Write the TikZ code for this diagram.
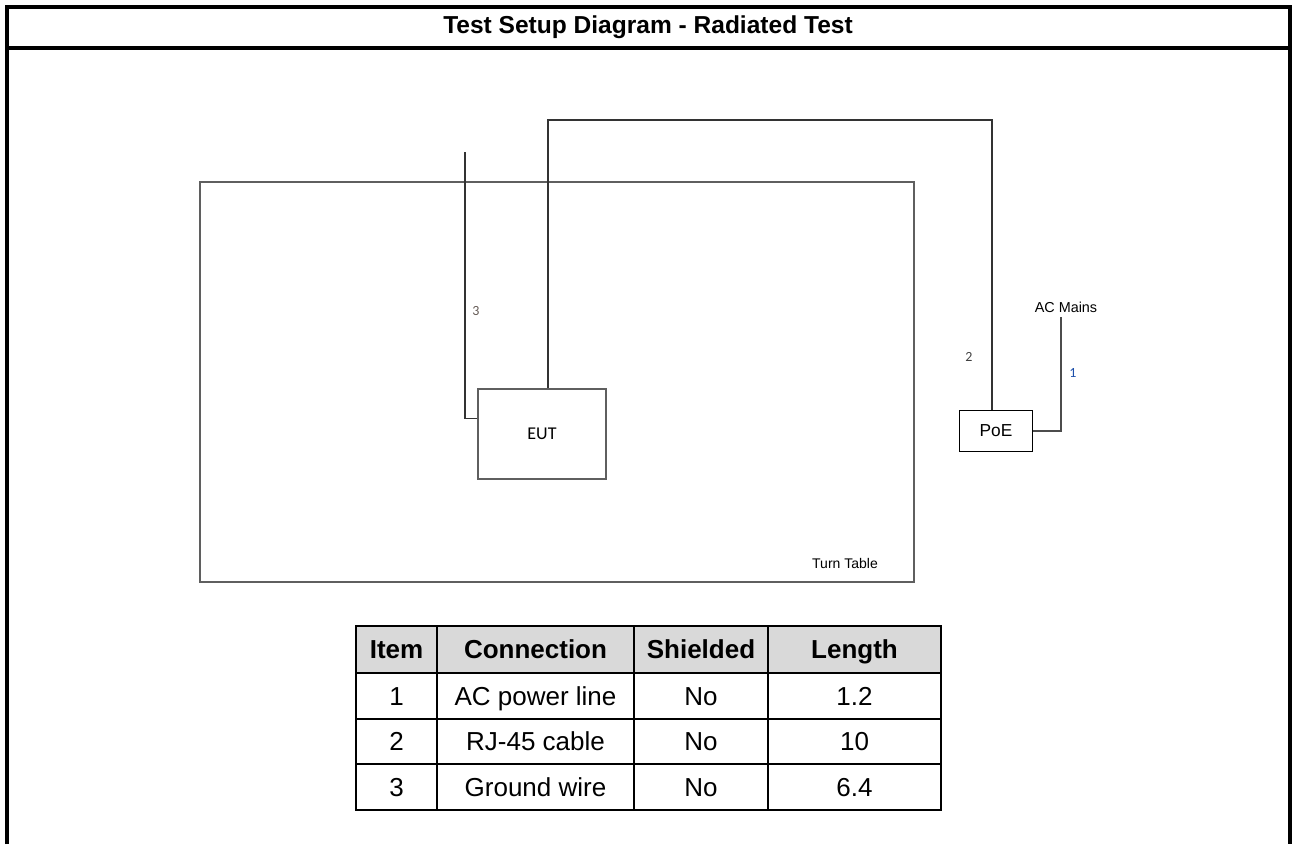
\documentclass[tikz,border=0pt]{standalone}
\usepackage{fontspec}
\setmainfont{Liberation Sans}
\newfontfamily\calibri{Carlito}
\usepackage{tikz}
\usetikzlibrary{positioning}

\definecolor{hdrgray}{RGB}{217,217,217}
\definecolor{linegray}{RGB}{95,95,95}
\definecolor{numblue}{RGB}{30,80,170}
\definecolor{numbrown}{RGB}{100,90,85}

\begin{document}
\begin{tikzpicture}[x=0.75pt, y=-0.75pt,
    frame/.style={line width=2.3pt},
    wire/.style={draw=black!80, line width=0.8pt},
    unit/.style={draw=linegray, line width=1pt, inner sep=0pt},
    tag/.style={font=\calibri\fontsize{10.5}{12}\selectfont, inner sep=0pt},
    cell/.style={font=\fontsize{19.5}{22}\selectfont, inner sep=0pt, text height=16pt, text depth=2pt},
    hcell/.style={cell, font=\bfseries\fontsize{19.5}{22}\selectfont}]

\useasboundingbox (0,0) rectangle (1296,844);

% Outer frame and title bar
\draw[frame] (7,844) -- (7,7) -- (1290,7) -- (1290,844);
\draw[frame] (7,48) -- (1290,48);
\node[font=\bfseries\fontsize{18.4}{21}\selectfont] (title) at (648,27) {Test Setup Diagram - Radiated Test};

% Turn table
\draw[draw=linegray, line width=1pt] (200,182) rectangle (914,582);
\node[font=\fontsize{10.5}{12}\selectfont] (turntable) at (845,563) {Turn Table};

% Equipment
\node[unit, minimum width=96pt, minimum height=67.5pt, font=\calibri\fontsize{13.5}{15}\selectfont] (eut) at (542,434) {EUT};
\node[unit, draw=black, minimum width=54.75pt, minimum height=30.75pt, font=\fontsize{13}{15}\selectfont] (poe) at (996,431) {PoE};

% Cable end points
\coordinate (gndtop) at (465,152);
\coordinate (rjtop) at (992,120);
\coordinate (mains) at (1061,317);

% Cable 3: ground wire
\draw[wire] (gndtop) |- ([yshift=-22.5pt]eut.north west);
% Cable 2: RJ-45 between EUT and PoE
\draw[wire] ([xshift=4.5pt]eut.north) |- (rjtop) -- ([xshift=-3pt]poe.north);
% Cable 1: AC power line
\draw[wire, draw=black!70] (poe.east) -| (mains);

% Cable labels
\node[tag, text=numbrown] (lbl3) at (476,311) {3};
\node[tag, text=black!75] (lbl2) at (969,357) {2};
\node[tag, text=numblue] (lbl1) at (1073,373) {1};
\node[font=\fontsize{10.8}{12}\selectfont] (acmains) at (1066,307) {AC Mains};

% Cable table
\fill[hdrgray] (356,626) rectangle (941,673);
\foreach \y in {673,719,764} {
    \draw[line width=1.5pt] (356,\y) -- (941,\y);
}
\foreach \x in {437,634,768} {
    \draw[line width=1.5pt] (\x,626) -- (\x,810);
}
\draw[line width=2.2pt] (356,626) rectangle (941,810);

\node[hcell] (hitem) at (396.5,649.5) {Item};
\node[hcell] (hconn) at (535.5,649.5) {Connection};
\node[hcell] (hshield) at (701,649.5) {Shielded};
\node[hcell] (hlen) at (854.5,649.5) {Length};

\foreach \r/\cy/\conn/\len in {1/696/AC power line/1.2, 2/741.5/RJ-45 cable/10, 3/787/Ground wire/6.4} {
    \node[cell] (item-\r) at (396.5,\cy) {\r};
    \node[cell] (conn-\r) at (535.5,\cy) {\conn};
    \node[cell] (shield-\r) at (701,\cy) {No};
    \node[cell] (len-\r) at (854.5,\cy) {\len};
}

\end{tikzpicture}
\end{document}
